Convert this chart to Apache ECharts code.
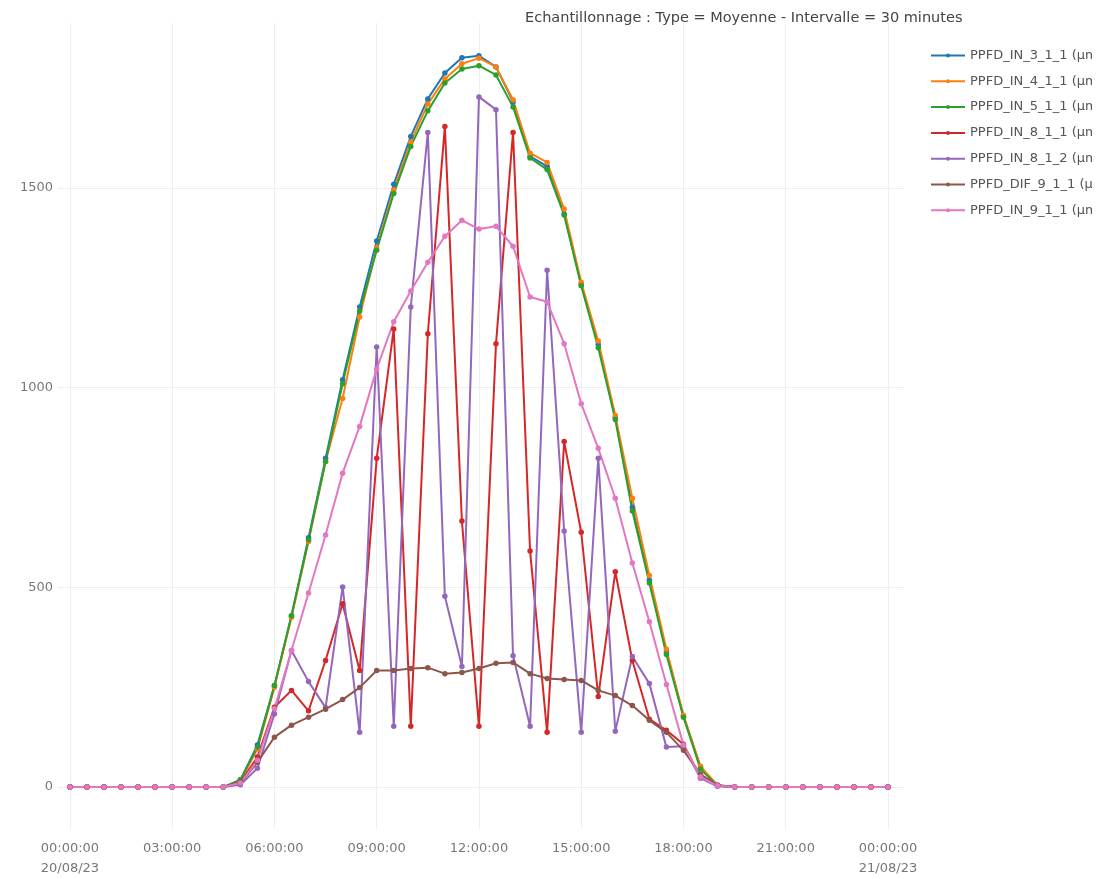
<!DOCTYPE html>
<html>
<head>
<meta charset="utf-8">
<script src="https://cdn.jsdelivr.net/npm/echarts@6/dist/echarts.min.js"></script>
<style>
html,body{margin:0;padding:0;background:#fff;}
#chart{width:1092px;height:879px;}
</style>
</head>
<body>
<div id="chart"></div>
<script>
// 30-minute samples from 00:00 20/08/23 to 00:00 21/08/23 (49 points), x in hours
const hours = [];
for (let i = 0; i <= 48; i++) hours.push(i * 0.5);

const tickHours = [0, 3, 6, 9, 12, 15, 18, 21, 24];
const yTicks = [0, 500, 1000, 1500];

const night = [0,0,0,0,0,0,0,0,0,0];
const nightEnd = [0,0,0,0,0,0,0,0,0,0];

const ppfdIn311 = night.concat([18,105,254,429,624,823,1020,1202,1367,1509,1629,1723,1788,1826,1831,1803,1716,1579,1554,1435,1258,1108,925,700,518,338,178,50,4], nightEnd);
const ppfdIn411 = night.concat([15,95,250,425,615,815,973,1177,1350,1495,1615,1710,1773,1811,1825,1803,1721,1587,1564,1447,1264,1117,930,723,530,345,180,52,4], nightEnd);
const ppfdIn511 = night.concat([18,100,254,429,619,815,1010,1192,1344,1486,1604,1693,1763,1798,1806,1783,1703,1575,1546,1432,1255,1100,920,691,511,332,175,45,3], nightEnd);
const ppfdIn811 = night.concat([12,75,200,242,191,317,459,292,823,1147,152,1135,1654,666,152,1110,1639,591,137,865,638,227,539,317,170,142,107,25,3], nightEnd);
const ppfdIn812 = night.concat([6,47,183,342,264,199,501,137,1102,152,1202,1639,478,302,1728,1696,329,152,1294,641,137,823,140,327,259,100,102,22,2], nightEnd);
const ppfdDif911 = night.concat([10,62,125,155,175,195,219,249,292,292,297,299,284,287,297,310,312,284,272,269,267,242,229,204,167,137,92,32,5], nightEnd);
const ppfdIn911 = night.concat([10,67,196,342,486,631,786,903,1047,1165,1242,1314,1379,1419,1397,1404,1354,1227,1215,1110,960,848,723,561,414,257,105,25,3], nightEnd);

const seriesNames = [
  'PPFD_IN_3_1_1 (µmol/m²/s)',
  'PPFD_IN_4_1_1 (µmol/m²/s)',
  'PPFD_IN_5_1_1 (µmol/m²/s)',
  'PPFD_IN_8_1_1 (µmol/m²/s)',
  'PPFD_IN_8_1_2 (µmol/m²/s)',
  'PPFD_DIF_9_1_1 (µmol/m²/s)',
  'PPFD_IN_9_1_1 (µmol/m²/s)'
];
const seriesValues = [ppfdIn311, ppfdIn411, ppfdIn511, ppfdIn811, ppfdIn812, ppfdDif911, ppfdIn911];
const colors = ['#1f77b4','#ff7f0e','#2ca02c','#d62728','#9467bd','#8c564b','#e377c2'];

const titleText = 'Echantillonnage : Type = Moyenne - Intervalle = 30 minutes';

function pad(n){ return (n < 10 ? '0' : '') + n; }
function xLabel(v){
  const h = Math.round(v);
  if (h === 0) return '00:00:00\n20/08/23';
  if (h === 24) return '00:00:00\n21/08/23';
  return pad(h) + ':00:00';
}

const chart = echarts.init(document.getElementById('chart'), null, {renderer: 'canvas'});
const font = '"DejaVu Sans", Verdana, sans-serif';

chart.setOption({
  animation: false,
  color: colors,
  textStyle: {fontFamily: font},
  title: {
    text: titleText,
    left: 520,
    top: 6,
    textStyle: {fontSize: 14.5, fontWeight: 'normal', color: '#444', fontFamily: font}
  },
  legend: {
    orient: 'vertical',
    left: 925,
    top: 44,
    itemWidth: 34,
    itemHeight: 5,
    itemGap: 12.8,
    textStyle: {fontSize: 13, color: '#555', fontFamily: font},
    data: seriesNames
  },
  grid: {left: 58, right: 1092 - 904, top: 23, bottom: 879 - 832, containLabel: false},
  xAxis: {
    type: 'value',
    min: -0.35,
    max: 24.47,
    axisLine: {show: false},
    axisTick: {show: false, customValues: tickHours},
    axisLabel: {
      customValues: tickHours,
      formatter: xLabel,
      color: '#777',
      fontSize: 13,
      lineHeight: 20,
      margin: 10,
      fontFamily: font
    },
    splitLine: {show: true, lineStyle: {color: '#eeeeee', width: 1}}
  },
  yAxis: {
    type: 'value',
    min: -105,
    max: 1913,
    axisLine: {show: false},
    axisTick: {show: false, customValues: yTicks},
    axisLabel: {
      customValues: yTicks,
      formatter: function (v) { return String(Math.round(v)); },
      color: '#777',
      fontSize: 13,
      margin: 5,
      fontFamily: font
    },
    splitLine: {show: true, lineStyle: {color: '#eeeeee', width: 1}}
  },
  series: seriesNames.map((name, k) => ({
    name: name,
    type: 'line',
    data: hours.map((h, i) => [h, seriesValues[k][i]]),
    symbol: 'circle',
    symbolSize: 5.5,
    showSymbol: true,
    lineStyle: {width: 2, color: colors[k]},
    itemStyle: {color: colors[k]},
    emphasis: {disabled: true}
  }))
});
</script>
</body>
</html>
